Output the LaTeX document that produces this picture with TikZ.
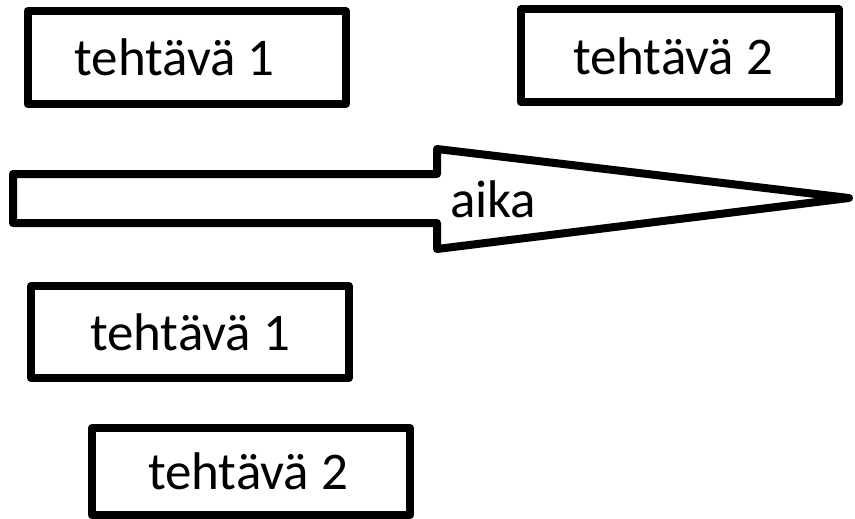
\documentclass[tikz,border=0pt]{standalone}
\usepackage{fontspec}
\setmainfont{Carlito}

\begin{document}
\begin{tikzpicture}[x=1pt,y=-1pt,line width=8pt,line join=round,
    taskbox/.style={draw,minimum width=318pt,minimum height=93pt,inner sep=0pt,font=\fontsize{53}{60}\selectfont}]
        \useasboundingbox (0,0) rectangle (855,519);
        \node[taskbox] (seq1) at (186.5,57.5) {tehtävä 1\hspace*{24pt}\mbox{}};
        \node[taskbox] (seq2) at (680,56) {tehtävä 2\hspace*{14pt}\mbox{}};
        \draw (13,174) -- (437,174) -- (437,149) -- (849,198) -- (437,249) -- (437,223) -- (13,223) -- cycle;
        \node[font=\fontsize{53}{60}\selectfont,anchor=base west,inner sep=0pt] (time) at (446,217) {aika};
        \node[taskbox,minimum height=92pt] (conc1) at (190,332) {tehtävä 1};
        \node[taskbox,minimum height=87pt] (conc2) at (251,471.5) {tehtävä 2\hspace*{6pt}\mbox{}};
    \end{tikzpicture}
\end{document}
